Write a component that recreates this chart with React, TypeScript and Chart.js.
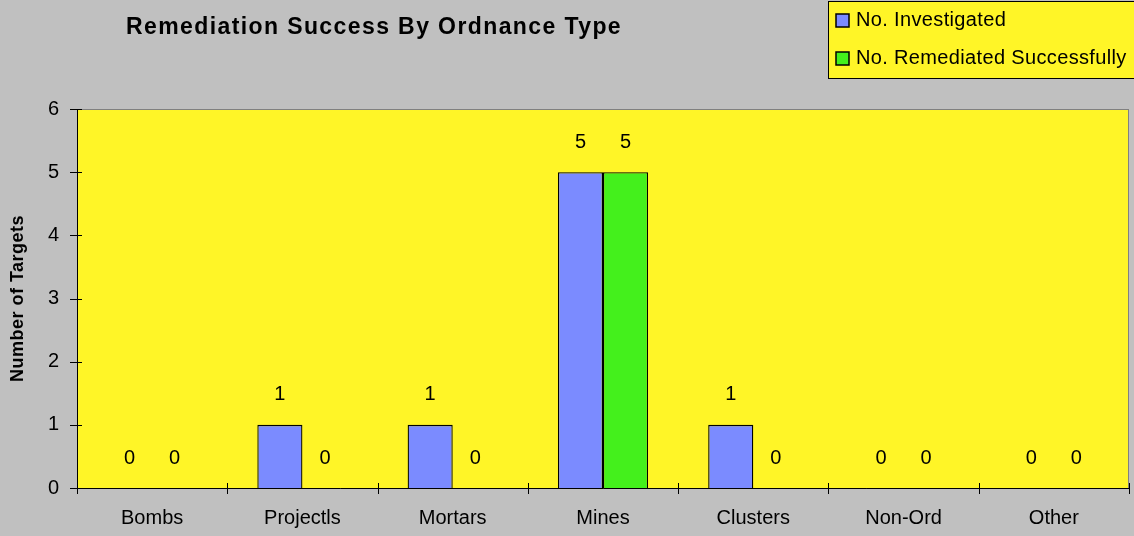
import React, { useEffect, useRef } from "react";
import { Chart, registerables } from "chart.js";

Chart.register(...registerables);

const categories = ["Bombs", "Projectls", "Mortars", "Mines", "Clusters", "Non-Ord", "Other"];
const investigated = [0, 1, 1, 5, 1, 0, 0];
const remediated = [0, 0, 0, 5, 0, 0, 0];
const seriesNames = ["No. Investigated", "No. Remediated Successfully"];
const chartTitle = "Remediation Success By Ordnance Type";
const yAxisTitle = "Number of Targets";
const yMax = 6;

const FONT = "'Liberation Sans', Arial, sans-serif";
const BLUE = "#7b8bff";
const GREEN = "#44f01c";
const YELLOW = "#fff527";
const GRAY = "#c0c0c0";

const decorPlugin = {
  id: "decor",
  beforeDraw(chart: any) {
    const { ctx, chartArea } = chart;
    ctx.save();
    ctx.fillStyle = GRAY;
    ctx.fillRect(0, 0, chart.width, chart.height);
    ctx.fillStyle = YELLOW;
    ctx.fillRect(chartArea.left, chartArea.top, chartArea.right - chartArea.left, chartArea.bottom - chartArea.top);
    ctx.strokeStyle = "#808080";
    ctx.lineWidth = 1;
    ctx.strokeRect(chartArea.left + 0.5, chartArea.top + 0.5, chartArea.right - chartArea.left - 1, chartArea.bottom - chartArea.top);
    ctx.restore();
  },
  afterDraw(chart: any) {
    const { ctx, chartArea, scales } = chart;
    const y = scales.y;
    ctx.save();
    // axes
    ctx.strokeStyle = "#000";
    ctx.lineWidth = 1;
    ctx.beginPath();
    ctx.moveTo(chartArea.left + 0.5, chartArea.top);
    ctx.lineTo(chartArea.left + 0.5, chartArea.bottom + 0.5);
    ctx.lineTo(chartArea.right, chartArea.bottom + 0.5);
    ctx.stroke();
    // y ticks
    ctx.beginPath();
    for (let v = 0; v <= yMax; v++) {
      const py = Math.round(y.getPixelForValue(v)) + 0.5;
      ctx.moveTo(chartArea.left - 7, py);
      ctx.lineTo(chartArea.left + 5, py);
    }
    // x ticks between categories
    for (let i = 0; i <= categories.length; i++) {
      const px = Math.round(chartArea.left + ((chartArea.right - chartArea.left) * i) / categories.length) + 0.5;
      ctx.moveTo(px, chartArea.bottom - 5);
      ctx.lineTo(px, chartArea.bottom + 6);
    }
    ctx.stroke();

    // data labels
    ctx.fillStyle = "#000";
    ctx.font = `20px ${FONT}`;
    ctx.textAlign = "center";
    ctx.textBaseline = "middle";
    chart.data.datasets.forEach((ds: any, di: number) => {
      const meta = chart.getDatasetMeta(di);
      meta.data.forEach((el: any, i: number) => {
        ctx.fillText(String(ds.data[i]), el.x, el.y - 30);
      });
    });

    // title
    ctx.font = `bold 23px ${FONT}`;
    (ctx as any).letterSpacing = "1.4px";
    ctx.fillText(chartTitle, 374, 28);

    // y axis title
    ctx.save();
    ctx.translate(18, (chartArea.top + chartArea.bottom) / 2);
    ctx.rotate(-Math.PI / 2);
    ctx.font = `bold 18px ${FONT}`;
    (ctx as any).letterSpacing = "0.5px";
    ctx.fillText(yAxisTitle, 0, 0);
    ctx.restore();

    // legend
    ctx.fillStyle = YELLOW;
    ctx.fillRect(828, 1, 310, 77);
    ctx.strokeStyle = "#000";
    ctx.lineWidth = 1;
    ctx.strokeRect(828.5, 1.5, 310, 77);
    const colors = [BLUE, GREEN];
    const ys = [20, 58];
    ctx.textAlign = "left";
    ctx.font = `20px ${FONT}`;
    (ctx as any).letterSpacing = "0.35px";
    seriesNames.forEach((n, i) => {
      ctx.fillStyle = colors[i];
      ctx.fillRect(836, ys[i] - 6, 13, 13);
      ctx.strokeStyle = "#000";
      ctx.lineWidth = 1.5;
      ctx.strokeRect(836, ys[i] - 6, 13, 13);
      ctx.fillStyle = "#000";
      ctx.fillText(n, 856, ys[i]);
    });
    (ctx as any).letterSpacing = "0px";
    ctx.restore();
  },
};

export default function App() {
  const ref = useRef<HTMLCanvasElement>(null);
  useEffect(() => {
    const chart = new Chart(ref.current!, {
      type: "bar",
      data: {
        labels: categories,
        datasets: [
          { label: seriesNames[0], data: investigated, backgroundColor: BLUE, borderColor: "#000", borderWidth: 1.3 },
          { label: seriesNames[1], data: remediated, backgroundColor: GREEN, borderColor: "#000", borderWidth: 1.3 },
        ],
      },
      plugins: [decorPlugin],
      options: {
        animation: false,
        responsive: false,
        devicePixelRatio: 1,
        layout: { padding: { top: 109, right: 5, left: 0, bottom: 0 } },
        datasets: { bar: { categoryPercentage: 0.6, barPercentage: 1 } },
        plugins: { legend: { display: false }, tooltip: { enabled: false }, title: { display: false } },
        scales: {
          x: {
            grid: { display: false },
            border: { display: false },
            ticks: { color: "#000", font: { family: FONT, size: 20 }, padding: 10, maxRotation: 0 },
            afterFit: (s: any) => { s.height = 48; },
          },
          y: {
            min: 0,
            max: yMax,
            grid: { display: false },
            border: { display: false },
            ticks: { stepSize: 1, color: "#000", font: { family: FONT, size: 20 }, padding: 10 },
            afterFit: (s: any) => { s.width = 77; },
          },
        },
      },
    });
    return () => chart.destroy();
  }, []);
  return (
    <div style={{ position: "absolute", left: 0, top: 0, width: 1134, height: 536 }}>
      <canvas ref={ref} width={1134} height={536} style={{ display: "block", width: 1134, height: 536 }} />
    </div>
  );
}
